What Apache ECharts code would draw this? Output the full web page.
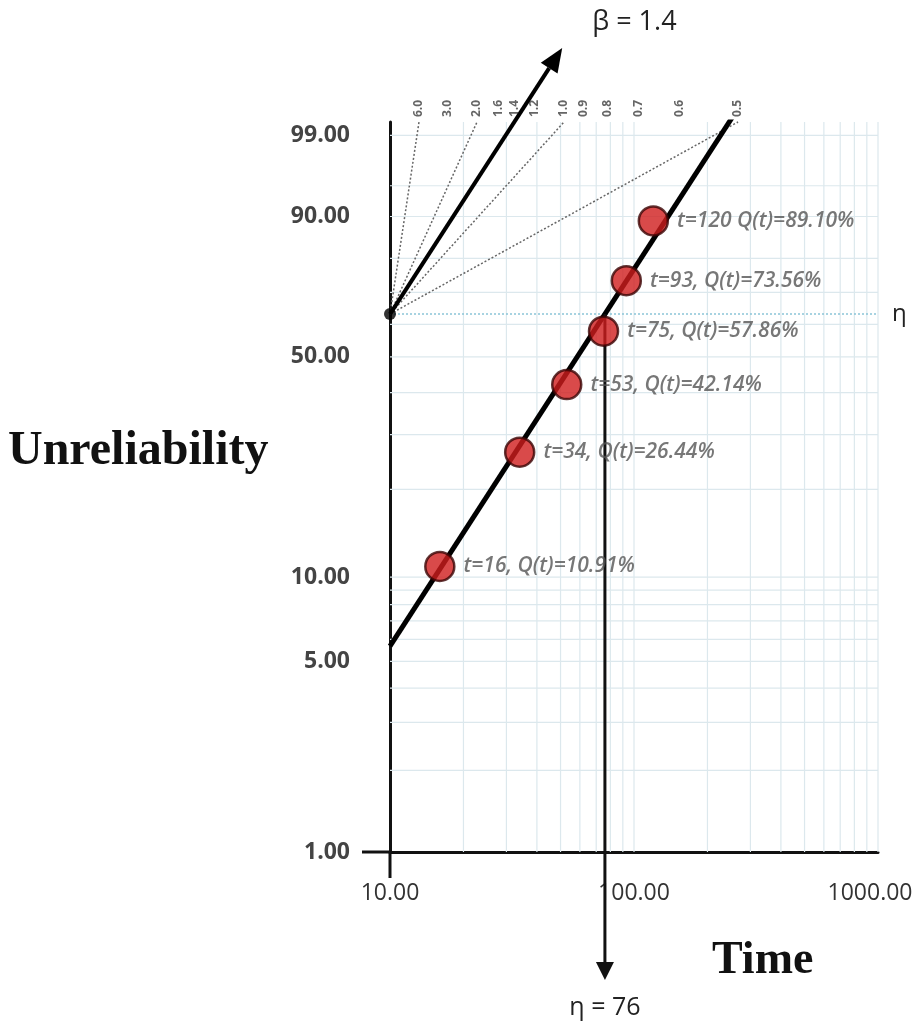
<!DOCTYPE html>
<html>
<head>
<meta charset="utf-8">
<script src="https://cdn.jsdelivr.net/npm/echarts@6/dist/echarts.min.js"></script>
<style>
html,body{margin:0;padding:0;background:#ffffff;}
#chart{width:918px;height:1027px;}
</style>
</head>
<body>
<div id="chart"></div>
<script>
// ---------- data ----------
const times = [16, 34, 53, 75, 93, 120];
const unreliability = [10.91, 26.44, 42.14, 57.86, 73.56, 89.10];
const pointLabels = [
  't=16, Q(t)=10.91%',
  't=34, Q(t)=26.44%',
  't=53, Q(t)=42.14%',
  't=75, Q(t)=57.86%',
  't=93, Q(t)=73.56%',
  't=120 Q(t)=89.10%'
];
const beta = 1.4;
const eta = 76;
const yTickPercents = [1, 5, 10, 50, 90, 99];
const yGridPercents = [2, 3, 4, 5, 6, 7, 8, 9, 10, 20, 30, 40, 50, 60, 70, 80, 90, 95, 99];
const yRangePercents = [1, 99.43];
const xTickLabels = [10, 100, 1000];
const xGridTimes = [20, 30, 40, 50, 60, 70, 80, 90, 100, 200, 300, 400, 500, 600, 700, 800, 900, 1000];
const betaScale = [6.0, 3.0, 2.0, 1.6, 1.4, 1.2, 1.0, 0.9, 0.8, 0.7, 0.6, 0.5];
const betaDotted = [6.0, 2.0, 1.0, 0.5];

// ---------- Weibull probability scale ----------
const weib = p => Math.log(-Math.log(1 - p / 100));
const invWeib = z => 100 * (1 - Math.exp(-Math.exp(z)));
const yMin = weib(yRangePercents[0]);
const yMax = weib(yRangePercents[1]);
const tMin = xTickLabels[0];
const tMax = xTickLabels[xTickLabels.length - 1];
const fitZ = t => beta * Math.log(t / eta);

const chart = echarts.init(document.getElementById('chart'), null, {renderer: 'canvas'});

const labelFont = "'Open Sans', 'DejaVu Sans', sans-serif";

const option = {
  backgroundColor: '#ffffff',
  animation: false,
  grid: {left: 390, top: 122, width: 488, height: 730, containLabel: false},
  xAxis: {
    type: 'log',
    logBase: 10,
    min: tMin,
    max: tMax,
    axisLine: {show: true, onZero: false, lineStyle: {color: '#111', width: 3}},
    axisTick: {show: false},
    splitLine: {show: false},
    axisLabel: {
      show: true,
      margin: 30,
      fontSize: 23,
      color: '#333',
      fontFamily: labelFont,
      showMinLabel: true,
      showMaxLabel: true,
      formatter: v => (Number(v) >= tMax ? '{r|' + Number(v).toFixed(2) + '}' : Number(v).toFixed(2)),
      rich: {r: {fontSize: 23, color: '#333', fontFamily: labelFont, padding: [0, 16, 0, 0]}}
    }
  },
  yAxis: {
    type: 'value',
    min: yMin,
    max: yMax,
    axisLine: {show: true, onZero: false, lineStyle: {color: '#111', width: 3}},
    axisTick: {show: false},
    splitLine: {show: false},
    axisLabel: {
      show: true,
      customValues: yTickPercents.map(weib),
      margin: 40,
      fontSize: 23,
      fontWeight: 'bold',
      color: '#444',
      fontFamily: labelFont,
      formatter: v => invWeib(v).toFixed(2)
    }
  },
  graphic: [
    {type: 'text', left: 8, top: 428, style: {text: 'Unreliability', font: "bold 48px 'Liberation Serif', 'DejaVu Serif', serif", fill: '#111'}},
    {type: 'text', left: 712, top: 938, style: {text: 'Time', font: "bold 46px 'Liberation Serif', 'DejaVu Serif', serif", fill: '#111'}}
  ],
  series: [
    // vertical grid lines
    {
      type: 'custom', z: 1, silent: true,
      data: xGridTimes.map(t => [t, yMin]),
      renderItem: (params, api) => {
        const a = api.coord([api.value(0), yMin]);
        const b = api.coord([api.value(0), yMax]);
        return {type: 'line', shape: {x1: a[0], y1: a[1], x2: b[0], y2: b[1]}, style: {stroke: '#dce8ed', lineWidth: 1.2}};
      }
    },
    // horizontal grid lines
    {
      type: 'custom', z: 1, silent: true,
      data: yGridPercents.map(p => [tMin, weib(p)]),
      renderItem: (params, api) => {
        const a = api.coord([tMin, api.value(1)]);
        const b = api.coord([tMax, api.value(1)]);
        return {type: 'line', shape: {x1: a[0], y1: a[1], x2: b[0], y2: b[1]}, style: {stroke: '#dce8ed', lineWidth: 1.2}};
      }
    },
    // axis stubs crossing at the origin corner
    {
      type: 'custom', z: 6, silent: true,
      data: [[tMin, yMin]],
      renderItem: (params, api) => {
        const c = api.coord([tMin, yMin]);
        return {type: 'group', children: [
          {type: 'line', shape: {x1: c[0], y1: c[1], x2: c[0], y2: c[1] + 26}, style: {stroke: '#111', lineWidth: 3}},
          {type: 'line', shape: {x1: c[0], y1: c[1], x2: c[0] - 28, y2: c[1]}, style: {stroke: '#111', lineWidth: 3}}
        ]};
      }
    },
    // dotted slope reference lines
    {
      type: 'custom', z: 2, silent: true,
      data: betaDotted.map(b => [tMin, 0, b]),
      renderItem: (params, api) => {
        const b = api.value(2);
        const s = api.coord([tMin, 0]);
        const e = api.coord([tMin * Math.exp(yMax / b), yMax]);
        return {type: 'line', shape: {x1: s[0], y1: s[1], x2: e[0], y2: e[1]}, style: {stroke: '#666', lineWidth: 1.5, lineDash: [2, 2]}};
      }
    },
    // slope scale labels along the top
    {
      type: 'custom', z: 3, silent: true,
      data: betaScale.map(b => [tMin * Math.exp(yMax / b), yMax, b]),
      renderItem: (params, api) => {
        const p = api.coord([api.value(0), yMax]);
        return {type: 'text', x: p[0], y: p[1] - 5, rotation: Math.PI / 2,
          style: {text: api.value(2).toFixed(1), font: "bold 12px 'Open Sans', 'DejaVu Sans', sans-serif", fill: '#666', textAlign: 'left', textVerticalAlign: 'middle'}};
      }
    },
    // fitted Weibull line (+ eta reference line at 63.2 %)
    {
      type: 'line', z: 3, silent: true, clip: true,
      symbol: 'none',
      data: [[tMin, fitZ(tMin)], [tMax, fitZ(tMax)]],
      lineStyle: {color: '#000', width: 5},
      markLine: {
        silent: true,
        symbol: 'none',
        z: 2,
        lineStyle: {color: '#8cc5d8', width: 1.5, type: [2, 2]},
        label: {show: true, position: 'end', distance: 14, formatter: 'η', fontSize: 24, color: '#222', fontFamily: labelFont},
        data: [{yAxis: 0}]
      }
    },
    // beta arrow
    {
      type: 'custom', z: 4, silent: true,
      data: [[tMin, 0, beta]],
      renderItem: (params, api) => {
        const s = api.coord([tMin, 0]);
        const u = api.coord([tMin * Math.E, api.value(2)]);
        let dx = u[0] - s[0], dy = u[1] - s[1];
        const len = Math.hypot(dx, dy); dx /= len; dy /= len;
        const tipY = 48;
        const k = (tipY - s[1]) / dy;
        const tip = [s[0] + dx * k, s[1] + dy * k];
        const ah = 24, aw = 10;
        const base = [tip[0] - dx * ah, tip[1] - dy * ah];
        const nx = -dy, ny = dx;
        return {type: 'group', children: [
          {type: 'line', shape: {x1: s[0], y1: s[1], x2: base[0], y2: base[1]}, style: {stroke: '#000', lineWidth: 4}},
          {type: 'polygon', shape: {points: [tip, [base[0] + nx * aw, base[1] + ny * aw], [base[0] - nx * aw, base[1] - ny * aw]]}, style: {fill: '#000'}},
          {type: 'text', x: tip[0] + 30, y: tip[1] - 26, style: {text: 'β = ' + api.value(2).toFixed(1), font: "27px 'Open Sans', 'DejaVu Sans', sans-serif", fill: '#222', textAlign: 'left', textVerticalAlign: 'middle'}}
        ]};
      }
    },
    // eta arrow
    {
      type: 'custom', z: 4, silent: true,
      data: [[eta, 0]],
      renderItem: (params, api) => {
        const s = api.coord([api.value(0), 0]);
        const endY = 980;
        return {type: 'group', children: [
          {type: 'line', shape: {x1: s[0], y1: s[1], x2: s[0], y2: endY - 16}, style: {stroke: '#111', lineWidth: 3}},
          {type: 'polygon', shape: {points: [[s[0], endY], [s[0] - 9, endY - 18], [s[0] + 9, endY - 18]]}, style: {fill: '#111'}},
          {type: 'text', x: s[0], y: endY + 28, style: {text: 'η = ' + api.value(0), font: "25px 'Open Sans', 'DejaVu Sans', sans-serif", fill: '#222', textAlign: 'center', textVerticalAlign: 'middle'}}
        ]};
      }
    },
    // origin dot
    {
      type: 'scatter', z: 5, silent: true, clip: false,
      symbolSize: 12,
      itemStyle: {color: '#000'},
      data: [[tMin, 0]]
    },
    // data points
    {
      type: 'scatter', z: 6, silent: true, clip: false,
      symbolSize: 29,
      itemStyle: {color: '#d01d1d', borderColor: '#3a0505', borderWidth: 2.5},
      data: times.map((t, i) => ({value: [t, weib(unreliability[i])], label: {formatter: pointLabels[i]}})),
      label: {
        show: true, position: 'right', distance: 8,
        fontStyle: 'italic', fontWeight: 600, fontSize: 21,
        color: '#555', fontFamily: labelFont
      }
    }
  ]
};
chart.setOption(option);
</script>
</body>
</html>
